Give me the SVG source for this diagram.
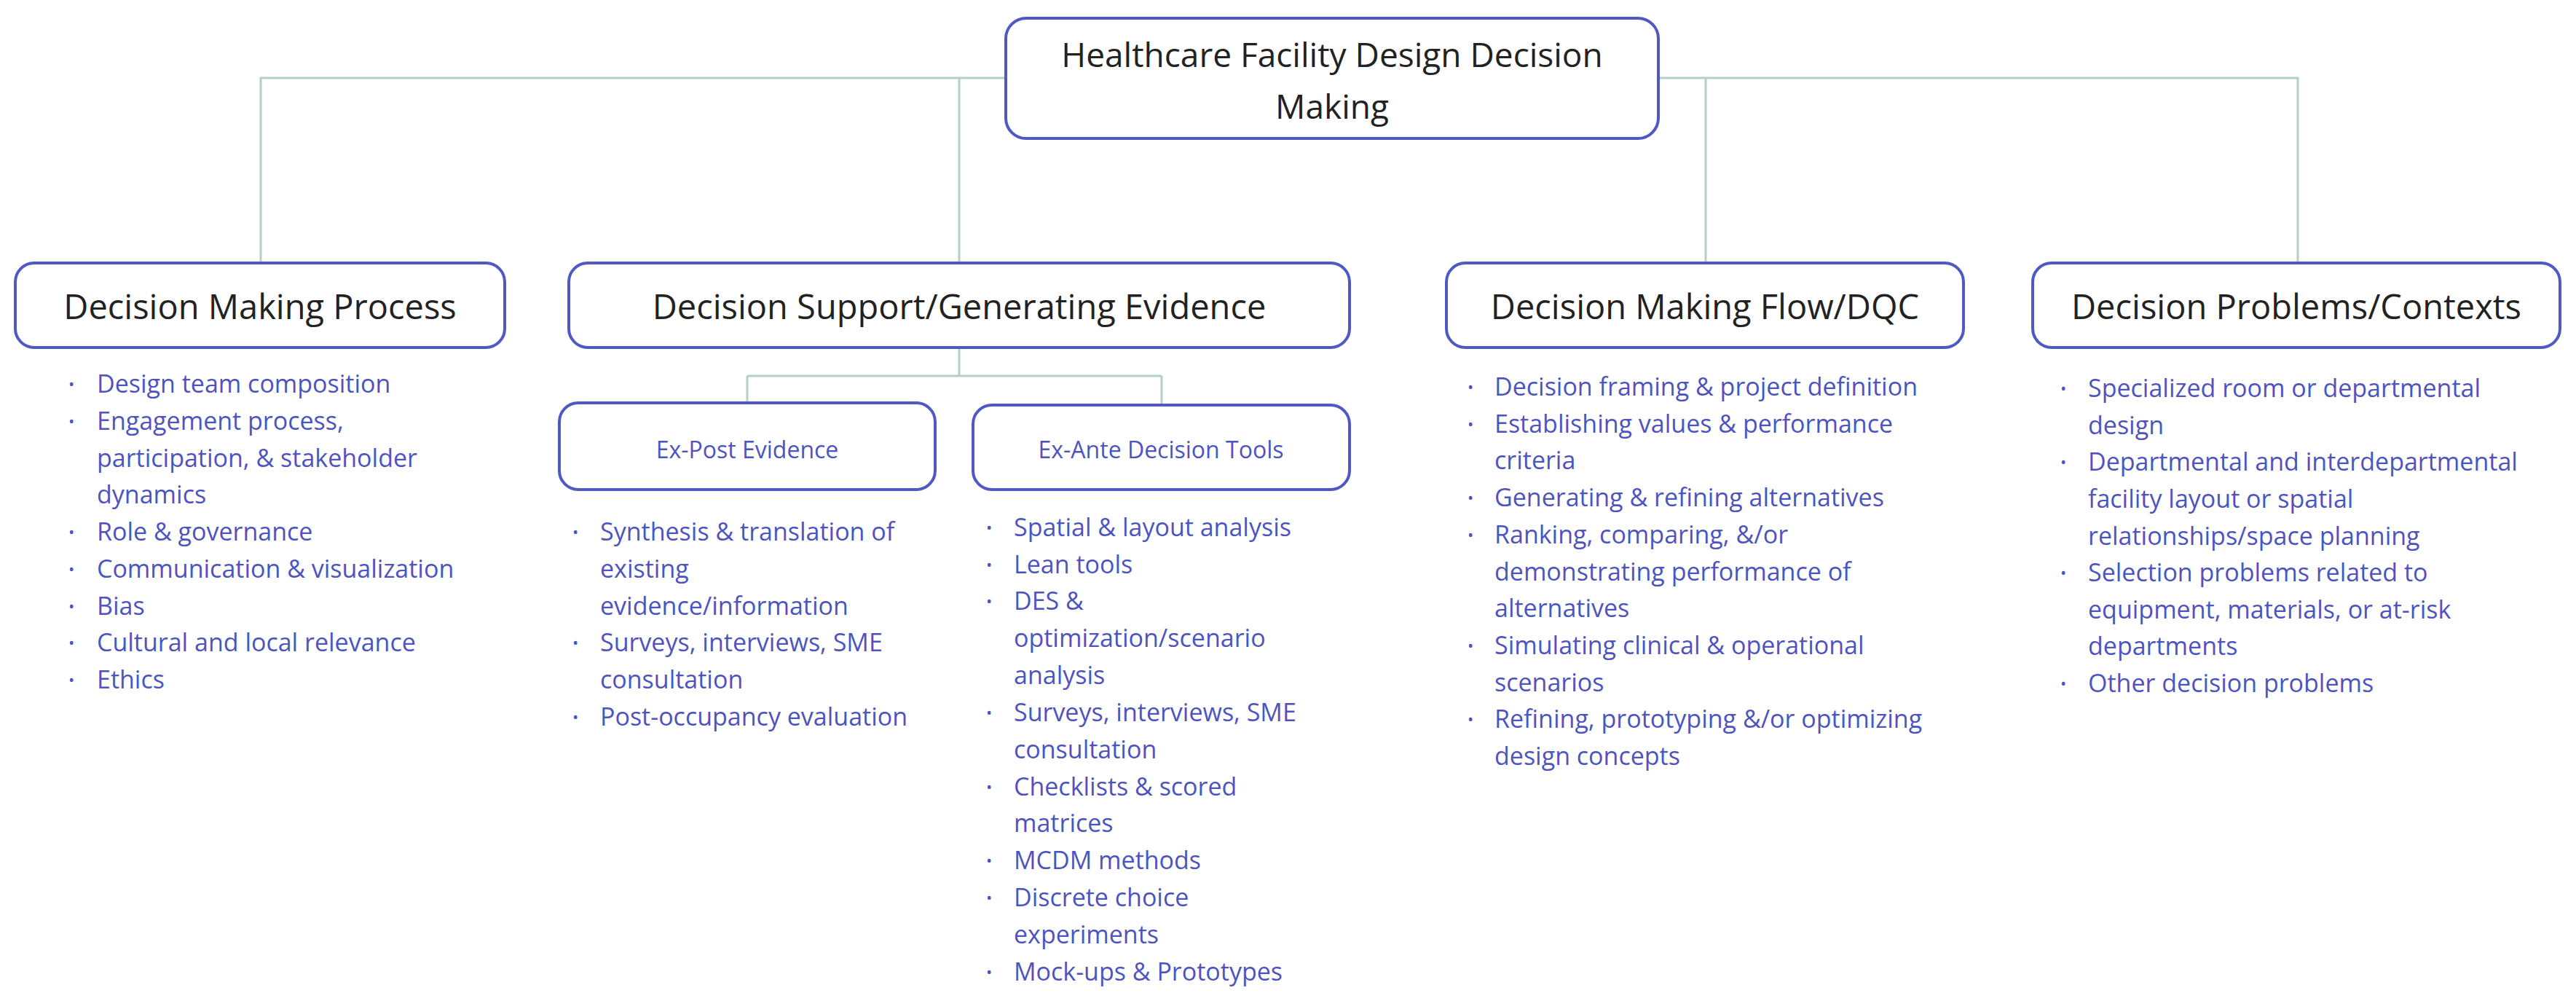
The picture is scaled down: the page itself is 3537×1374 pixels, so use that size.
<svg xmlns="http://www.w3.org/2000/svg" width="3537" height="1374" viewBox="0 0 3537 1374">
<style>
.box{fill:#fff;stroke:#5058c4;stroke-width:4}
.con{fill:none;stroke:#b4cfc7;stroke-width:3}
.h{font-family:"Open Sans",sans-serif;fill:#222;text-anchor:middle;dominant-baseline:central}
.t0{font-size:46px}
.t1{font-size:47px}
.t2{font-size:32px;fill:#4d54c0}
.li{font-family:"Open Sans",sans-serif;font-size:34px;fill:#4d54c0;dominant-baseline:central}
.b{font-family:"Open Sans",sans-serif;font-size:22px;fill:#4d54c0;dominant-baseline:central}
</style>
<rect width="3537" height="1374" fill="#fff"/>
<g id="connectors">
<path class="con" d="M1381 107H358V361M1381 107H1317V361M2277 107H3155V361M2342 107V361"/>
<path class="con" d="M1317 477V516M1026 516H1595M1026 516V553M1595 516V556"/>
</g>
<g id="root"><rect class="box" x="1381" y="25" width="896" height="165" rx="28"/>
<text class="h t0" x="1829"><tspan x="1829" y="74">Healthcare Facility Design Decision</tspan><tspan x="1829" y="145">Making</tspan></text></g>
<g id="n1"><rect class="box" x="21" y="361" width="672" height="116" rx="26"/><text class="h t1" x="357" y="420">Decision Making Process</text></g>
<g id="n2"><rect class="box" x="781" y="361" width="1072" height="116" rx="26"/><text class="h t1" x="1317" y="420">Decision Support/Generating Evidence</text></g>
<g id="n3"><rect class="box" x="1986" y="361" width="710" height="116" rx="26"/><text class="h t1" x="2341" y="420">Decision Making Flow/DQC</text></g>
<g id="n4"><rect class="box" x="2791" y="361" width="724" height="116" rx="26"/><text class="h t1" x="3153" y="420">Decision Problems/Contexts</text></g>
<g id="n2a"><rect class="box" x="768" y="553" width="516" height="119" rx="26"/><text class="h t2" x="1026" y="616">Ex-Post Evidence</text></g>
<g id="n2b"><rect class="box" x="1336" y="556" width="517" height="116" rx="26"/><text class="h t2" x="1594" y="616">Ex-Ante Decision Tools</text></g>
<g id="list1">
<text class="b" x="94"><tspan x="94" y="526">•</tspan><tspan x="94" y="577">•</tspan><tspan x="94" y="729">•</tspan><tspan x="94" y="780">•</tspan><tspan x="94" y="831">•</tspan><tspan x="94" y="881">•</tspan><tspan x="94" y="932">•</tspan></text>
<text class="li" x="133"><tspan x="133" y="526">Design team composition</tspan><tspan x="133" y="577">Engagement process,</tspan><tspan x="133" y="628">participation, &amp; stakeholder</tspan><tspan x="133" y="678">dynamics</tspan><tspan x="133" y="729">Role &amp; governance</tspan><tspan x="133" y="780">Communication &amp; visualization</tspan><tspan x="133" y="831">Bias</tspan><tspan x="133" y="881">Cultural and local relevance</tspan><tspan x="133" y="932">Ethics</tspan></text>
</g>
<g id="list2a">
<text class="b" x="786"><tspan x="786" y="729">•</tspan><tspan x="786" y="881">•</tspan><tspan x="786" y="983">•</tspan></text>
<text class="li" x="824"><tspan x="824" y="729">Synthesis &amp; translation of</tspan><tspan x="824" y="780">existing</tspan><tspan x="824" y="831">evidence/information</tspan><tspan x="824" y="881">Surveys, interviews, SME</tspan><tspan x="824" y="932">consultation</tspan><tspan x="824" y="983">Post-occupancy evaluation</tspan></text>
</g>
<g id="list2b">
<text class="b" x="1354"><tspan x="1354" y="723">•</tspan><tspan x="1354" y="774">•</tspan><tspan x="1354" y="824">•</tspan><tspan x="1354" y="977">•</tspan><tspan x="1354" y="1079">•</tspan><tspan x="1354" y="1180">•</tspan><tspan x="1354" y="1231">•</tspan><tspan x="1354" y="1333">•</tspan></text>
<text class="li" x="1392"><tspan x="1392" y="723">Spatial &amp; layout analysis</tspan><tspan x="1392" y="774">Lean tools</tspan><tspan x="1392" y="824">DES &amp;</tspan><tspan x="1392" y="875">optimization/scenario</tspan><tspan x="1392" y="926">analysis</tspan><tspan x="1392" y="977">Surveys, interviews, SME</tspan><tspan x="1392" y="1028">consultation</tspan><tspan x="1392" y="1079">Checklists &amp; scored</tspan><tspan x="1392" y="1129">matrices</tspan><tspan x="1392" y="1180">MCDM methods</tspan><tspan x="1392" y="1231">Discrete choice</tspan><tspan x="1392" y="1282">experiments</tspan><tspan x="1392" y="1333">Mock-ups &amp; Prototypes</tspan></text>
</g>
<g id="list3">
<text class="b" x="2015"><tspan x="2015" y="530">•</tspan><tspan x="2015" y="581">•</tspan><tspan x="2015" y="682">•</tspan><tspan x="2015" y="733">•</tspan><tspan x="2015" y="885">•</tspan><tspan x="2015" y="986">•</tspan></text>
<text class="li" x="2052"><tspan x="2052" y="530">Decision framing &amp; project definition</tspan><tspan x="2052" y="581">Establishing values &amp; performance</tspan><tspan x="2052" y="631">criteria</tspan><tspan x="2052" y="682">Generating &amp; refining alternatives</tspan><tspan x="2052" y="733">Ranking, comparing, &amp;/or</tspan><tspan x="2052" y="784">demonstrating performance of</tspan><tspan x="2052" y="834">alternatives</tspan><tspan x="2052" y="885">Simulating clinical &amp; operational</tspan><tspan x="2052" y="936">scenarios</tspan><tspan x="2052" y="986">Refining, prototyping &amp;/or optimizing</tspan><tspan x="2052" y="1037">design concepts</tspan></text>
</g>
<g id="list4">
<text class="b" x="2829"><tspan x="2829" y="532">•</tspan><tspan x="2829" y="633">•</tspan><tspan x="2829" y="785">•</tspan><tspan x="2829" y="937">•</tspan></text>
<text class="li" x="2867"><tspan x="2867" y="532">Specialized room or departmental</tspan><tspan x="2867" y="583">design</tspan><tspan x="2867" y="633">Departmental and interdepartmental</tspan><tspan x="2867" y="684">facility layout or spatial</tspan><tspan x="2867" y="735">relationships/space planning</tspan><tspan x="2867" y="785">Selection problems related to</tspan><tspan x="2867" y="836">equipment, materials, or at-risk</tspan><tspan x="2867" y="886">departments</tspan><tspan x="2867" y="937">Other decision problems</tspan></text>
</g>
</svg>
